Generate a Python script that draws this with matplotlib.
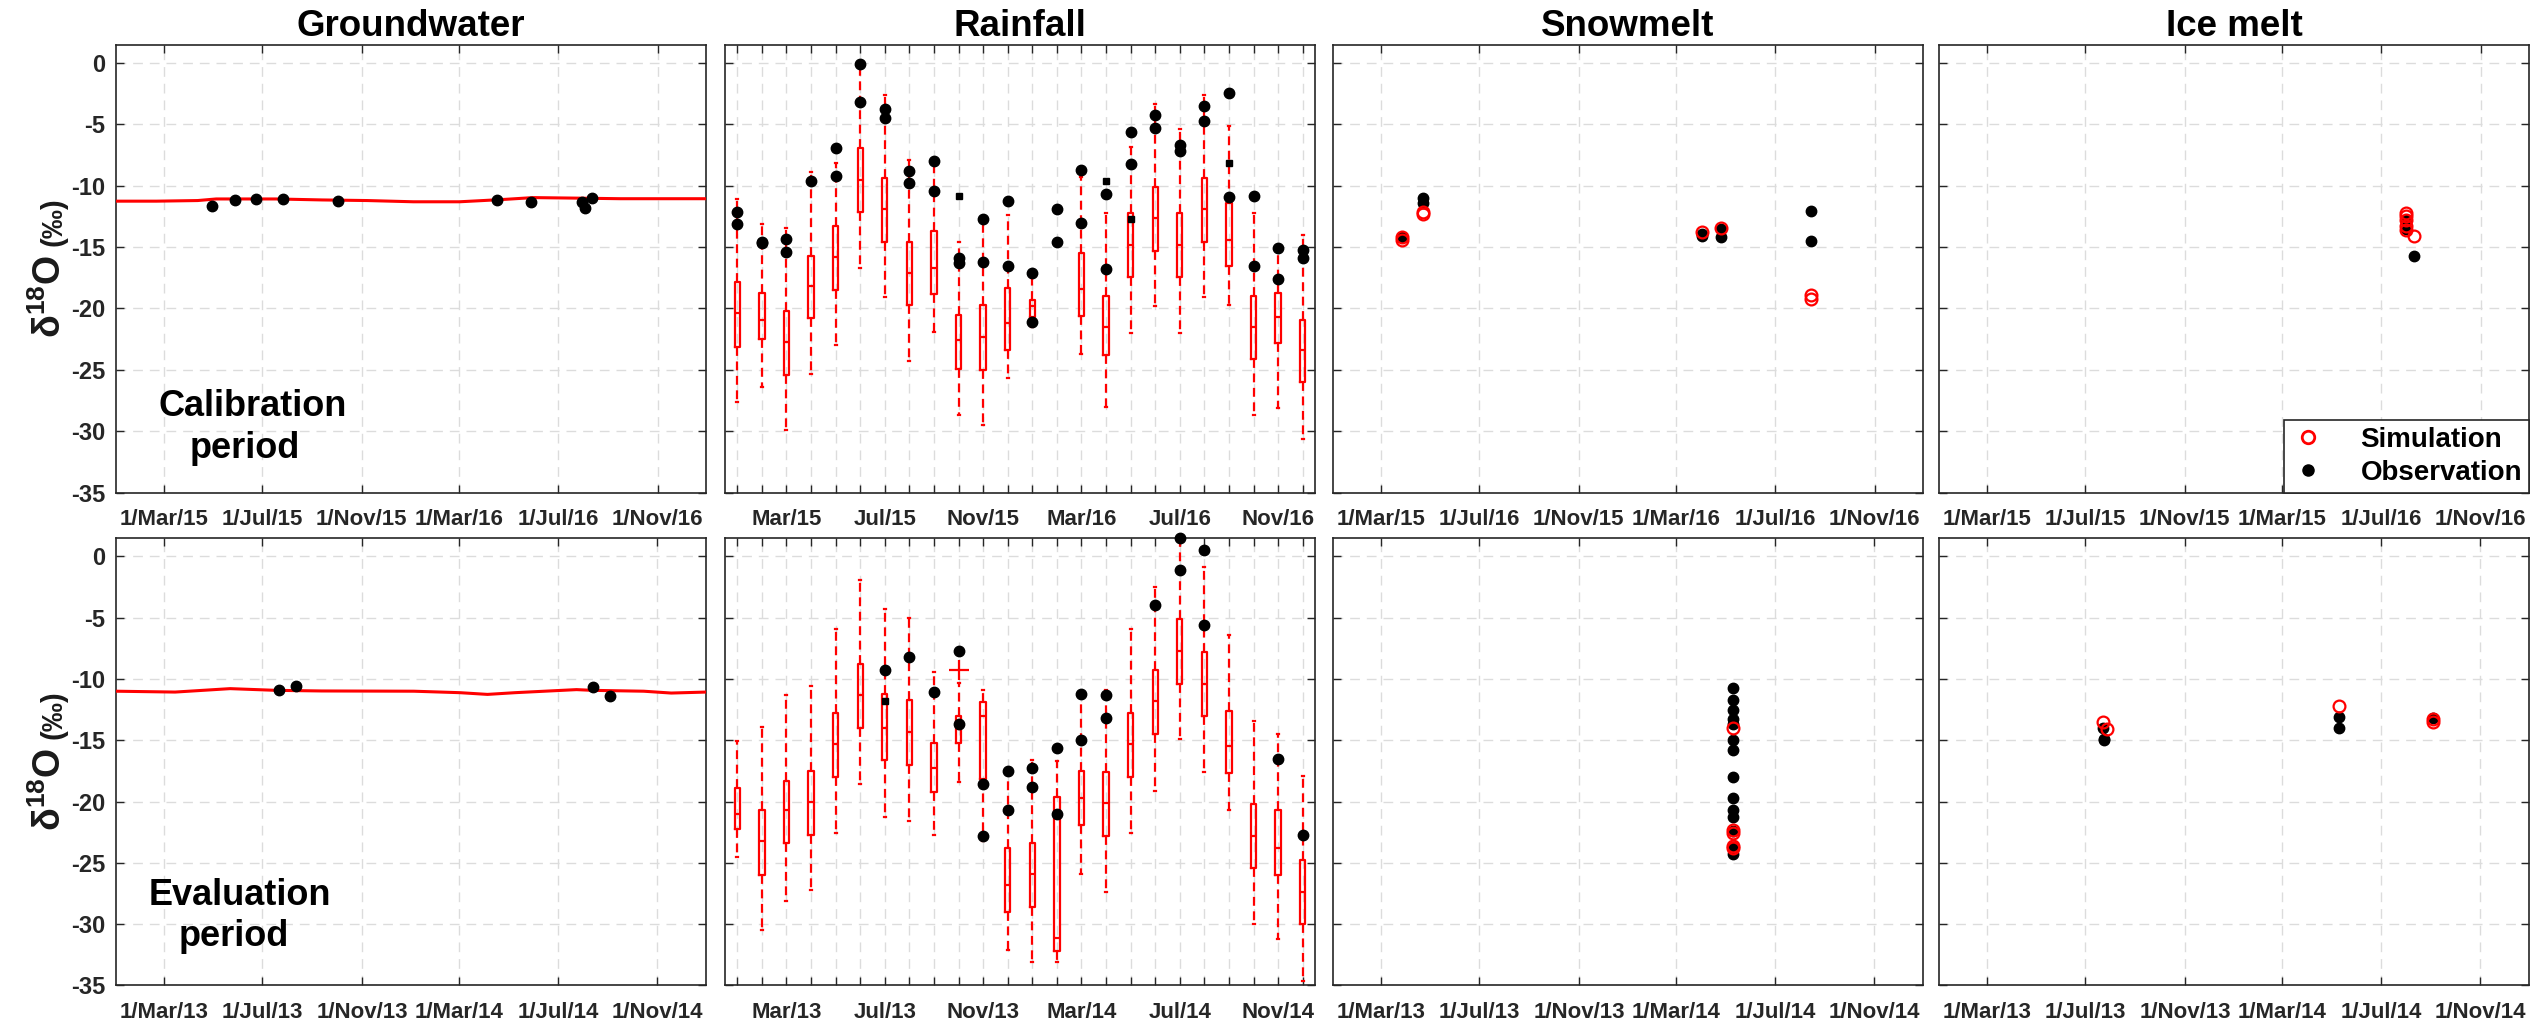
import matplotlib
matplotlib.use('Agg')
import matplotlib.pyplot as plt
import matplotlib.dates as mdates
from matplotlib.transforms import blended_transform_factory
from matplotlib.lines import Line2D
import numpy as np

plt.rcParams['font.family'] = ['Liberation Sans', 'DejaVu Sans']
plt.rcParams['font.weight'] = 'bold'
plt.rcParams['mathtext.fontset'] = 'custom'
plt.rcParams['mathtext.rm'] = 'Liberation Sans'
plt.rcParams['mathtext.bf'] = 'Liberation Sans:bold'
plt.rcParams['mathtext.it'] = 'Liberation Sans:italic'

# ---------------- DATA ----------------
titles = ['Groundwater', 'Rainfall', 'Snowmelt', 'Ice melt']
period_labels = [['Calibration', 'period'], ['Evaluation', 'period']]
yticks = [-35, -30, -25, -20, -15, -10, -5, 0]

# date-axis tick labels (as printed in the figure)
gw_ticklabels_cal = ['1/Mar/15', '1/Jul/15', '1/Nov/15', '1/Mar/16', '1/Jul/16', '1/Nov/16']
gw_ticklabels_eval = ['1/Mar/13', '1/Jul/13', '1/Nov/13', '1/Mar/14', '1/Jul/14', '1/Nov/14']
snow_ticklabels_cal = ['1/Mar/15', '1/Jul/16', '1/Nov/15', '1/Mar/16', '1/Jul/16', '1/Nov/16']
ice_ticklabels_cal = ['1/Mar/15', '1/Jul/15', '1/Nov/15', '1/Mar/15', '1/Jul/16', '1/Nov/16']
tick_dates_cal = ['2015-03-01', '2015-07-01', '2015-11-01', '2016-03-01', '2016-07-01', '2016-11-01']
tick_dates_eval = ['2013-03-01', '2013-07-01', '2013-11-01', '2014-03-01', '2014-07-01', '2014-11-01']
xlim_cal = ['2015-01-01', '2016-12-31']
xlim_eval = ['2013-01-01', '2014-12-31']

# Groundwater simulation line and observations
gw_sim_dates_cal = ['2015-01-01', '2015-02-20', '2015-04-12', '2015-05-05', '2015-07-18', '2015-09-13',
                    '2015-11-08', '2016-01-04', '2016-03-01', '2016-03-30', '2016-04-27', '2016-05-31',
                    '2016-07-21', '2016-09-16', '2016-11-12', '2016-12-31']
gw_sim_vals_cal = [-11.25, -11.25, -11.2, -11.07, -11.07, -11.15, -11.2, -11.3, -11.3, -11.2, -11.1,
                   -10.96, -11.0, -11.05, -11.05, -11.05]
gw_obs_dates_cal = ['2015-04-30', '2015-05-28', '2015-06-23', '2015-07-27', '2015-10-03',
                    '2016-04-16', '2016-05-29', '2016-07-30', '2016-08-03', '2016-08-12']
gw_obs_vals_cal = [-11.63, -11.18, -11.1, -11.1, -11.26, -11.15, -11.3, -11.35, -11.8, -10.96]

gw_sim_dates_eval = ['2013-01-01', '2013-03-15', '2013-05-22', '2013-07-18', '2013-09-12', '2014-01-04',
                     '2014-03-02', '2014-04-05', '2014-05-09', '2014-07-24', '2014-08-13', '2014-10-15',
                     '2014-11-18', '2014-12-31']
gw_sim_vals_eval = [-11.0, -11.07, -10.79, -10.93, -10.98, -11.0, -11.12, -11.26, -11.12, -10.87,
                    -10.93, -11.0, -11.15, -11.07]
gw_obs_dates_eval = ['2013-07-21', '2013-08-12', '2014-08-13', '2014-09-03']
gw_obs_vals_eval = [-10.93, -10.59, -10.62, -11.43]

# Rainfall monthly box statistics (positions 1..24 = Jan .. Dec of two years)
rain_ticklabels_cal = ['Mar/15', 'Jul/15', 'Nov/15', 'Mar/16', 'Jul/16', 'Nov/16']
rain_ticklabels_eval = ['Mar/13', 'Jul/13', 'Nov/13', 'Mar/14', 'Jul/14', 'Nov/14']
rain_months = list(range(1, 25))

rain_cal_whishi = [-11.1, -13.1, -13.4, -8.9, -8.1, -0.4, -2.6, -7.9, -7.9, -14.6, -13.0, -12.4,
                   -17.5, None, -9.3, -12.2, -6.8, -3.3, -5.4, -2.6, -5.1, -12.2, -15.4, -14.0]
rain_cal_q3 = [-17.8, -18.75, -20.2, -15.7, -13.3, -6.9, -9.4, -14.6, -13.7, -20.5, -19.7, -18.3,
               -19.3, None, -15.5, -19.0, -12.2, -10.1, -12.2, -9.4, -11.4, -19.0, -18.7, -20.9]
rain_cal_med = [-20.4, -20.9, -22.7, -18.2, -15.8, -9.5, -11.9, -17.1, -16.7, -22.6, -22.3, -21.2,
                -19.8, None, -18.4, -21.5, -14.8, -12.6, -14.8, -11.9, -14.4, -21.5, -20.7, -23.4]
rain_cal_q1 = [-23.1, -22.5, -25.4, -20.8, -18.5, -12.1, -14.6, -19.7, -18.8, -24.9, -25.0, -23.4,
               -20.7, None, -20.6, -23.8, -17.4, -15.3, -17.4, -14.6, -16.5, -24.1, -22.8, -26.0]
rain_cal_whislo = [-27.6, -26.4, -29.9, -25.3, -23.0, -16.7, -19.1, -24.3, -21.9, -28.7, -29.5, -25.7,
                   -21.5, None, -23.7, -28.0, -22.0, -19.8, -22.0, -19.1, -19.7, -28.7, -28.1, -30.6]
rain_cal_obs = [[-12.1, -13.1], [-14.6, -14.7], [-14.3, -15.4], [-9.6], [-6.9, -9.2], [-0.1, -3.2],
                [-3.7, -4.5], [-8.8, -9.8], [-8.0, -10.4], [-15.9, -16.3], [-12.7, -16.2], [-11.2, -16.5],
                [-17.1, -21.1], [-11.9, -14.6], [-8.7, -13.0], [-10.7, -16.8], [-5.6, -8.2], [-4.2, -5.3],
                [-6.7, -7.2], [-3.5, -4.7], [-2.4, -10.9], [-10.8, -16.5], [-15.1, -17.6], [-15.2, -15.9]]
rain_cal_obs_small = [[], [], [], [], [], [], [], [], [], [-10.8], [], [], [], [], [], [-9.6], [-12.7],
                      [], [], [], [-8.1], [], [], []]

rain_eval_whishi = [-15.1, -13.9, -11.3, -10.6, -5.9, -1.9, -4.3, -5.0, -9.4, -10.3, -10.9, -17.8,
                    -16.6, -16.7, -11.5, -10.9, -5.9, -2.5, 1.3, -0.9, -6.4, -13.4, -14.5, -17.9]
rain_eval_q3 = [-18.9, -20.7, -18.3, -17.5, -12.8, -8.75, -11.2, -11.7, -15.2, -13.0, -11.9, -23.8,
                -23.4, -19.6, -17.5, -17.6, -12.8, -9.3, -5.1, -7.8, -12.6, -20.2, -20.7, -24.8]
rain_eval_med = [-21.0, -23.2, -20.7, -20.0, -15.3, -11.3, -14.0, -14.3, -17.3, -14.1, -13.0, -26.8,
                 -25.9, -31.1, -19.7, -20.1, -15.3, -11.8, -7.7, -10.4, -15.5, -22.8, -23.8, -27.4]
rain_eval_q1 = [-22.2, -26.0, -23.4, -22.7, -18.0, -14.0, -16.6, -17.0, -19.2, -15.2, -18.2, -29.0,
                -28.6, -32.2, -21.9, -22.8, -18.0, -14.5, -10.4, -13.0, -17.7, -25.4, -26.0, -30.0]
rain_eval_whislo = [-24.5, -30.5, -28.1, -27.2, -22.6, -18.6, -21.3, -21.6, -22.7, -18.4, -23.2, -32.1,
                    -33.1, -33.1, -25.9, -27.4, -22.6, -19.1, -14.9, -17.6, -20.7, -30.0, -31.2, -34.6]
rain_eval_fliers = [[], [], [], [], [], [], [], [], [], [-9.25], [], [], [], [], [], [], [], [], [], [],
                    [], [], [], []]
rain_eval_obs = [[], [], [], [], [], [], [-9.3], [-8.2], [-11.1], [-7.7, -13.7], [-18.6, -22.8],
                 [-17.5, -20.7], [-17.3, -18.8], [-15.6, -21.0], [-11.2, -15.0], [-11.3, -13.2], [],
                 [-4.0], [1.5, -1.1], [0.5, -5.6], [], [], [-16.5], [-22.7]]
rain_eval_obs_small = [[], [], [], [], [], [], [-11.8], [], [], [], [], [], [], [], [], [], [], [], [],
                       [], [], [], [], []]

# Snowmelt
snow_sim_dates_cal = ['2015-03-27', '2015-03-27', '2015-04-22', '2015-04-22', '2016-04-02', '2016-04-25',
                      '2016-08-14', '2016-08-14']
snow_sim_vals_cal = [-14.4, -14.2, -12.3, -12.1, -13.8, -13.4, -18.9, -19.2]
snow_obs_dates_cal = ['2015-03-27', '2015-04-22', '2015-04-22', '2016-04-02', '2016-04-02', '2016-04-25',
                      '2016-04-25', '2016-08-14', '2016-08-14']
snow_obs_vals_cal = [-14.16, -11.0, -11.4, -13.9, -14.1, -13.5, -14.2, -12.05, -14.5]

snow_sim_dates_eval = ['2014-05-10'] * 5
snow_sim_vals_eval = [-14.0, -22.3, -22.6, -23.6, -23.8]
snow_obs_dates_eval = ['2014-05-10'] * 14
snow_obs_vals_eval = [-10.7, -11.7, -12.5, -13.3, -13.7, -15.0, -15.8, -18.0, -19.7, -20.7, -21.3,
                      -22.4, -23.7, -24.3]

# Ice melt
ice_sim_dates_cal = ['2016-08-01', '2016-08-01', '2016-08-01', '2016-08-01', '2016-08-01', '2016-08-11']
ice_sim_vals_cal = [-12.2, -12.5, -12.8, -13.3, -13.6, -14.1]
ice_obs_dates_cal = ['2016-08-01', '2016-08-01', '2016-08-11']
ice_obs_vals_cal = [-12.8, -13.5, -15.7]

ice_sim_dates_eval = ['2013-07-23', '2013-07-27', '2014-05-10', '2014-09-04', '2014-09-04']
ice_sim_vals_eval = [-13.5, -14.1, -12.2, -13.3, -13.5]
ice_obs_dates_eval = ['2013-07-23', '2013-07-24', '2013-07-24', '2014-05-10', '2014-05-10', '2014-09-04']
ice_obs_vals_eval = [-14.0, -14.9, -15.0, -13.1, -14.0, -13.2]

# ---------------- STYLE / LAYOUT ----------------
RED = '#ff0000'
AXC = '#262626'
W, H = 2542, 1022
lefts_px = [116, 725, 1333, 1939]
width_px = 590
rows = [(0.5181, 0.4381), (0.0358, 0.4378)]

fig = plt.figure(figsize=(W / 100, H / 100), dpi=100)


def dn(s):
    return mdates.datestr2num(s)


def dnl(lst):
    return [mdates.datestr2num(s) for s in lst]


def style_axis(ax, first_col):
    ax.set_ylim(-35, 1.5)
    ax.set_yticks(yticks)
    if first_col:
        ax.set_yticklabels([str(v) for v in yticks])
    else:
        ax.set_yticklabels([])
    ax.grid(True, color='#dcdcdc', linestyle=(0, (7, 5)), linewidth=1.0)
    ax.set_axisbelow(True)
    ax.tick_params(direction='in', length=6, width=1.0, top=True, right=True,
                   colors=AXC, labelsize=16)
    ax.tick_params(axis='x', pad=12)
    ax.tick_params(axis='y', pad=8, labelsize=17)
    for sp in ax.spines.values():
        sp.set_color(AXC)
        sp.set_linewidth(1.2)


def date_axis(ax, lim, tdates, tlabels):
    ax.set_xlim(dn(lim[0]), dn(lim[1]))
    ax.set_xticks(dnl(tdates))
    ax.set_xticklabels(tlabels)


def add_ylabel(ax):
    ax.text(-0.093, 0.53, r'$\mathbf{δ^{18}O}$', transform=ax.transAxes, rotation=90,
            rotation_mode='anchor', ha='right', va='baseline', fontsize=27, color='#1a1a1a')
    ax.text(-0.093, 0.55, '(‰)', transform=ax.transAxes, rotation=90,
            rotation_mode='anchor', ha='left', va='baseline', fontsize=21, color='#1a1a1a')


def build_stats(whishi, q3, med, q1, whislo, fliers=None):
    stats, pos = [], []
    for i in range(len(med)):
        if med[i] is None:
            continue
        stats.append(dict(med=med[i], q1=q1[i], q3=q3[i], whislo=whislo[i], whishi=whishi[i],
                          fliers=(fliers[i] if fliers else [])))
        pos.append(rain_months[i])
    return stats, pos


def draw_rain(ax, stats, pos, obs, obs_small, labels):
    lw = 1.6
    ax.bxp(stats, positions=pos, widths=0.22, showfliers=True, manage_ticks=False,
           boxprops=dict(color=RED, linewidth=lw),
           medianprops=dict(color=RED, linewidth=lw),
           whiskerprops=dict(color=RED, linewidth=lw, linestyle=(0, (4, 2.5))),
           capprops=dict(color=RED, linewidth=lw), capwidths=0.08,
           flierprops=dict(marker='+', markeredgecolor=RED, markersize=14, markeredgewidth=1.6))
    for m, vals in zip(rain_months, obs):
        if vals:
            ax.plot([m] * len(vals), vals, 'o', color='black', markersize=7.5, zorder=5, clip_on=False)
    for m, vals in zip(rain_months, obs_small):
        if vals:
            ax.plot([m] * len(vals), vals, 's', color='black', markersize=4.5, zorder=5)
    ax.set_xlim(0.5, 24.5)
    ax.set_xticks(rain_months)
    ax.set_xticklabels([labels[(m - 3) // 4] if (m - 3) % 4 == 0 else '' for m in rain_months])


def draw_points(ax, sd, sv, od, ov):
    ax.plot(dnl(od), ov, 'o', color='black', markersize=7.5, zorder=4)
    ax.plot(dnl(sd), sv, 'o', markerfacecolor='none', markeredgecolor=RED, markeredgewidth=1.6,
            markersize=8.5, zorder=5)


axes = [[None] * 4 for _ in range(2)]
for r, (b, h) in enumerate(rows):
    for c in range(4):
        ax = fig.add_axes([lefts_px[c] / W, b, width_px / W, h])
        axes[r][c] = ax
        style_axis(ax, c == 0)
        if r == 0:
            ax.set_title(titles[c], fontsize=26.5, fontweight='bold', pad=6, color='black')

# Groundwater
for r in range(2):
    ax = axes[r][0]
    if r == 0:
        sd, sv, od, ov = gw_sim_dates_cal, gw_sim_vals_cal, gw_obs_dates_cal, gw_obs_vals_cal
        date_axis(ax, xlim_cal, tick_dates_cal, gw_ticklabels_cal)
    else:
        sd, sv, od, ov = gw_sim_dates_eval, gw_sim_vals_eval, gw_obs_dates_eval, gw_obs_vals_eval
        date_axis(ax, xlim_eval, tick_dates_eval, gw_ticklabels_eval)
    ax.plot(dnl(sd), sv, '-', color=RED, linewidth=2.2, zorder=3)
    ax.plot(dnl(od), ov, 'o', color='black', markersize=7.5, zorder=4)
    add_ylabel(ax)
    tr = blended_transform_factory(ax.transAxes, ax.transData)
    if r == 0:
        ax.text(0.231, -28.8, period_labels[0][0], transform=tr, ha='center', va='baseline',
                fontsize=26, fontweight='bold', color='black')
        ax.text(0.218, -32.2, period_labels[0][1], transform=tr, ha='center', va='baseline',
                fontsize=26, fontweight='bold', color='black')
    else:
        ax.text(0.21, -28.4, period_labels[1][0], transform=tr, ha='center', va='baseline',
                fontsize=26, fontweight='bold', color='black')
        ax.text(0.20, -31.8, period_labels[1][1], transform=tr, ha='center', va='baseline',
                fontsize=26, fontweight='bold', color='black')

# Rainfall
st, ps = build_stats(rain_cal_whishi, rain_cal_q3, rain_cal_med, rain_cal_q1, rain_cal_whislo)
draw_rain(axes[0][1], st, ps, rain_cal_obs, rain_cal_obs_small, rain_ticklabels_cal)
st, ps = build_stats(rain_eval_whishi, rain_eval_q3, rain_eval_med, rain_eval_q1, rain_eval_whislo,
                     rain_eval_fliers)
draw_rain(axes[1][1], st, ps, rain_eval_obs, rain_eval_obs_small, rain_ticklabels_eval)

# Snowmelt
draw_points(axes[0][2], snow_sim_dates_cal, snow_sim_vals_cal, snow_obs_dates_cal, snow_obs_vals_cal)
date_axis(axes[0][2], xlim_cal, tick_dates_cal, snow_ticklabels_cal)
draw_points(axes[1][2], snow_sim_dates_eval, snow_sim_vals_eval, snow_obs_dates_eval, snow_obs_vals_eval)
date_axis(axes[1][2], xlim_eval, tick_dates_eval, gw_ticklabels_eval)

# Ice melt
draw_points(axes[0][3], ice_sim_dates_cal, ice_sim_vals_cal, ice_obs_dates_cal, ice_obs_vals_cal)
date_axis(axes[0][3], xlim_cal, tick_dates_cal, ice_ticklabels_cal)
draw_points(axes[1][3], ice_sim_dates_eval, ice_sim_vals_eval, ice_obs_dates_eval, ice_obs_vals_eval)
date_axis(axes[1][3], xlim_eval, tick_dates_eval, gw_ticklabels_eval)

handles = [Line2D([], [], linestyle='none', marker='o', markerfacecolor='none', markeredgecolor=RED,
                  markeredgewidth=2.0, markersize=9),
           Line2D([], [], linestyle='none', marker='o', color='black', markersize=8)]
leg = axes[0][3].legend(handles, ['Simulation', 'Observation'], loc='lower right',
                        bbox_to_anchor=(1, 0), borderaxespad=0, fontsize=20, frameon=True,
                        fancybox=False, edgecolor=AXC, framealpha=1, handlelength=1.2,
                        handletextpad=1.3, borderpad=0.25, labelspacing=0.25)
leg.get_frame().set_linewidth(1.2)

fig.savefig('out.png', dpi=100)
